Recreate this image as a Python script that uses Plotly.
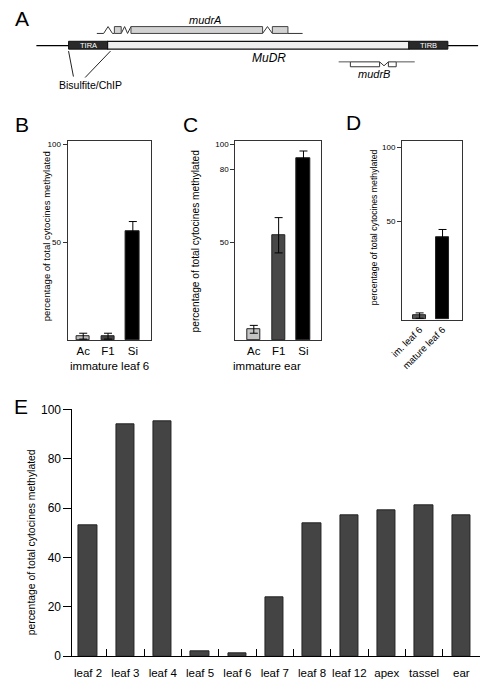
import plotly.graph_objects as go

W, H = 482, 688
FONT = "Liberation Sans, Arial, Helvetica, sans-serif"

# ---------------- data ----------------
# Panel B (immature leaf 6)
b_categories = ["Ac", "F1", "Si"]
b_values = [2, 2, 55.5]
b_errors = [1.5, 1.5, 5]
b_colors = ["#bdbdbd", "#444444", "#000000"]
b_tick_values = [50, 100]
b_tick_labels = ["50", "100"]

# Panel C (immature ear)
c_categories = ["Ac", "F1", "Si"]
c_values = [5.5, 53.5, 93]
c_errors = [2, 9, 3.5]
c_colors = ["#c4c4c4", "#484848", "#000000"]
c_tick_values = [50, 87, 100]
c_tick_labels = ["50", "80", "100"]

# Panel D
d_categories = ["im. leaf 6", "mature leaf 6"]
d_values = [2.2, 46]
d_errors = [1.5, 4.5]
d_colors = ["#555555", "#000000"]
d_tick_values = [55, 96.7]
d_tick_labels = ["50", "100"]

# Panel E
e_categories = ["leaf 2", "leaf 3", "leaf 4", "leaf 5", "leaf 6", "leaf 7",
                "leaf 8", "leaf 12", "apex", "tassel", "ear"]
e_values = [53, 94, 95, 2, 1, 24, 54, 57, 59, 61, 57]
e_tick_values = [0, 20, 40, 60, 80, 100]

# Panel A schematic (diagram units)
main_line = (25, 478)
tir_a = (58, 98)
mudr_body = (98, 407)
tir_b = (407, 447)
mudrA_extent = (87, 298)
mudrA_exons = [(105, 112), (122, 257), (267, 283)]
mudrB_extent = (335, 413)
mudrB_exons = [(347, 377), (386, 394)]

Y_LABEL = "percentage of total cytocines methylated"


def dx(a, b):
    return [a / W, b / W]


def dy(top, bottom):
    return [1 - bottom / H, 1 - top / H]


fig = go.Figure()

# ---------------- bar traces ----------------
fig.add_trace(go.Bar(x=b_categories, y=b_values, width=0.55,
                     marker=dict(color=b_colors, line=dict(color="#222222", width=1)),
                     error_y=dict(type="data", array=b_errors, color="black", thickness=1, width=4),
                     xaxis="x", yaxis="y", showlegend=False))
fig.add_trace(go.Bar(x=c_categories, y=c_values, width=0.55,
                     marker=dict(color=c_colors, line=dict(color="#222222", width=1)),
                     error_y=dict(type="data", array=c_errors, color="black", thickness=1, width=4),
                     xaxis="x2", yaxis="y2", showlegend=False))
fig.add_trace(go.Bar(x=d_categories, y=d_values, width=0.54,
                     marker=dict(color=d_colors, line=dict(color="#222222", width=1)),
                     error_y=dict(type="data", array=d_errors, color="black", thickness=1, width=4),
                     xaxis="x3", yaxis="y3", showlegend=False))
fig.add_trace(go.Bar(x=e_categories, y=e_values, width=0.49,
                     marker=dict(color="#444444", line=dict(color="#222222", width=1)),
                     xaxis="x4", yaxis="y4", showlegend=False))

box_axis = dict(showline=True, mirror=True, linecolor="#333333", linewidth=1,
                showgrid=False, zeroline=False)

layout = dict(
    width=W, height=H,
    margin=dict(l=0, r=0, t=0, b=0),
    paper_bgcolor="white", plot_bgcolor="white",
    font=dict(family=FONT, color="black"),
    bargap=0,
    # B
    xaxis=dict(domain=dx(57, 143), range=[-0.63, 2.75], ticks="",
               tickfont=dict(size=11.5), anchor="y", **box_axis),
    yaxis=dict(domain=dy(137, 340), range=[0, 101.5], ticks="outside", ticklen=4,
               tickcolor="#333333", tickvals=b_tick_values, ticktext=b_tick_labels,
               tickfont=dict(size=8), anchor="x", **box_axis),
    # C
    xaxis2=dict(domain=dx(229, 317), range=[-0.745, 2.71], ticks="",
                tickfont=dict(size=11.5), anchor="y2", **box_axis),
    yaxis2=dict(domain=dy(137, 340), range=[0, 101.5], ticks="outside", ticklen=4,
                tickcolor="#333333", tickvals=c_tick_values, ticktext=c_tick_labels,
                tickfont=dict(size=8), anchor="x2", **box_axis),
    # D
    xaxis3=dict(domain=dx(400, 462), range=[-0.766, 1.87], ticks="", tickangle=-45,
                tickfont=dict(size=9.5), anchor="y3", **box_axis),
    yaxis3=dict(domain=dy(137, 319), range=[0, 100], ticks="outside", ticklen=4,
                tickcolor="#333333", tickvals=d_tick_values, ticktext=d_tick_labels,
                tickfont=dict(size=8), anchor="x3", **box_axis),
    # E
    xaxis4=dict(domain=dx(62, 480), range=[-0.418, 10.5], showline=True,
                linecolor="black", linewidth=1, ticks="inside", ticklen=7,
                tickcolor="black", tickson="boundaries", showgrid=False,
                zeroline=False, tickfont=dict(size=11.5), tickangle=0,
                ticklabelstandoff=6, anchor="y4"),
    yaxis4=dict(domain=dy(410.7, 662.7), range=[0, 100], showline=True,
                linecolor="black", linewidth=1, ticks="outside", ticklen=8,
                tickcolor="black", tickvals=e_tick_values, showgrid=False,
                zeroline=False, tickfont=dict(size=12), anchor="x4"),
    # A schematic axis (diagram units)
    xaxis5=dict(domain=[0, 1], range=[0, W], visible=False, anchor="y5"),
    yaxis5=dict(domain=dy(0, 92), range=[92, 0], visible=False, anchor="x5"),
)
fig.update_layout(**layout)

# ---------------- panel A shapes ----------------
shapes = []
ref = dict(xref="x5", yref="y5")
# main chromosome line
shapes.append(dict(type="line", x0=main_line[0], x1=main_line[1], y0=39.5, y1=39.5,
                   line=dict(color="black", width=1.2), **ref))
# MuDR body
shapes.append(dict(type="rect", x0=mudr_body[0], x1=mudr_body[1], y0=35, y1=43,
                   fillcolor="#eeeeee", line=dict(color="#111111", width=1.2), **ref))
# TIRs
for a, b in (tir_a, tir_b):
    shapes.append(dict(type="rect", x0=a, x1=b, y0=35, y1=43,
                       fillcolor="#2a2a2a", line=dict(color="#111111", width=1), **ref))
# mudrA gene
ya_line, ya_top = 27, 20
path_a = (f"M {mudrA_extent[0]},{ya_line} L 94,{ya_line} L 98.5,{ya_top} L 103,{ya_line} "
          f"L {mudrA_exons[0][0]},{ya_line}")
shapes.append(dict(type="path", path=path_a, line=dict(color="#333333", width=1), **ref))
path_a2 = (f"M {mudrA_exons[0][1]},{ya_line} L 115.5,{ya_top} L 118.5,{ya_line} "
           f"L {mudrA_exons[1][0]},{ya_top}")
shapes.append(dict(type="path", path=path_a2, line=dict(color="#333333", width=1), **ref))
path_a3 = (f"M {mudrA_exons[1][1]},{ya_line} L 262,{ya_top} L {mudrA_exons[2][0]},{ya_line}")
shapes.append(dict(type="path", path=path_a3, line=dict(color="#333333", width=1), **ref))
shapes.append(dict(type="line", x0=mudrA_exons[2][1], x1=mudrA_extent[1], y0=ya_line,
                   y1=ya_line, line=dict(color="#333333", width=1), **ref))
for a, b in mudrA_exons:
    shapes.append(dict(type="rect", x0=a, x1=b, y0=ya_top, y1=ya_line,
                       fillcolor="#d2d2d2", line=dict(color="#444444", width=1), **ref))
# mudrB gene
yb_line, yb_bot = 56, 61
shapes.append(dict(type="line", x0=mudrB_extent[0], x1=mudrB_exons[0][0], y0=yb_line,
                   y1=yb_line, line=dict(color="#555555", width=1), **ref))
shapes.append(dict(type="line", x0=mudrB_exons[1][1], x1=mudrB_extent[1], y0=yb_line,
                   y1=yb_line, line=dict(color="#555555", width=1), **ref))
path_b = (f"M {mudrB_exons[0][1]},{yb_line} L 381.5,{yb_bot - 1} L {mudrB_exons[1][0]},{yb_line}")
shapes.append(dict(type="path", path=path_b, line=dict(color="#333333", width=1), **ref))
for a, b in mudrB_exons:
    shapes.append(dict(type="rect", x0=a, x1=b, y0=yb_line, y1=yb_bot,
                       fillcolor="white", line=dict(color="#333333", width=1), **ref))
# Bisulfite/ChIP pointer lines
shapes.append(dict(type="line", x0=58, y0=45, x1=63, y1=71,
                   line=dict(color="#222222", width=1), **ref))
shapes.append(dict(type="line", x0=101, y0=45, x1=75, y1=72,
                   line=dict(color="#222222", width=1), **ref))

fig.update_layout(shapes=shapes)

# ---------------- annotations ----------------
ann = []


def pa(text, x, y, size, angle=0, color="black", xanchor="center"):
    ann.append(dict(text=text, x=x / W, y=1 - y / H, xref="paper", yref="paper",
                    showarrow=False, font=dict(size=size, color=color, family=FONT),
                    textangle=angle, xanchor=xanchor, yanchor="middle"))


# panel letters
pa("A", 10, 12, 21)
pa("B", 10, 120, 21)
pa("C", 183, 120, 21)
pa("D", 350, 118, 21)
pa("E", 9, 408, 21)

# schematic labels
for text, x, y, size, color in [
    ("<i>mudrA</i>", 198, 13, 11, "black"),
    ("<i>MuDR</i>", 264, 52, 12, "black"),
    ("<i>mudrB</i>", 371, 68, 11, "black"),
    ("TIRA", 78, 39.5, 7.5, "white"),
    ("TIRB", 427, 39.5, 7.5, "white"),
    ("Bisulfite/ChIP", 80, 80, 10.5, "black"),
]:
    ann.append(dict(text=text, x=x, y=y, xref="x5", yref="y5", showarrow=False,
                    font=dict(size=size, color=color, family=FONT)))

# y titles
pa(Y_LABEL, 35, 234, 9.5, angle=-90)
pa(Y_LABEL, 188, 239, 10.2, angle=-90)
pa(Y_LABEL, 372, 225, 8.7, angle=-90)
pa(Y_LABEL, 20, 547, 10.4, angle=-90)

# x group labels
pa("immature leaf 6", 100, 366, 11.5)
pa("immature ear", 262, 366, 11.5)

fig.update_layout(annotations=ann)

fig.write_html("out.html", config={"displayModeBar": False},
               post_script="document.body.style.margin='0';document.body.style.overflow='hidden';")
